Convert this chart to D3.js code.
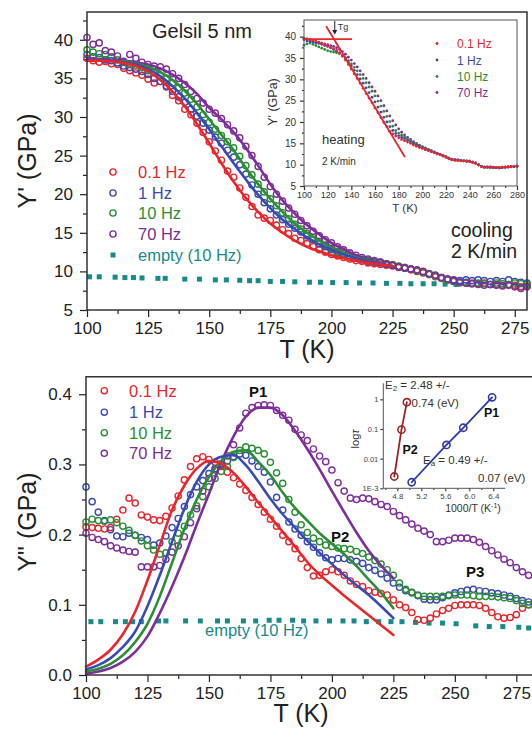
<!DOCTYPE html>
<html><head><meta charset="utf-8">
<script src="https://cdn.jsdelivr.net/npm/d3@7"></script>
<style>body{margin:0;background:#fff}svg{display:block}text{font-family:"Liberation Sans",Arial,sans-serif}</style>
</head><body><svg id="c" width="532" height="730"></svg>
<script>
// ---------- DATA ----------
const T25 = [100,102.5,105,107.5,110,112.5,115,117.5,120,122.5,125,127.5,130,132.5,135,137.5,140,142.5,145,147.5,150,152.5,155,157.5,160,162.5,165,167.5,170,172.5,175,177.5,180,182.5,185,187.5,190,192.5,195,197.5,200,202.5,205,207.5,210,212.5,215,217.5,220,222.5,225,227.5,230,232.5,235,237.5,240,242.5,245,247.5,250,252.5,255,257.5,260,262.5,265,267.5,270,272.5,275,277.5,280];
const T5 = [100,105,110,115,120,125,130,135,140,145,150,155,160,165,170,175,180,185,190,195,200,205,210,215,220,225];
const freqLabels = ["0.1 Hz","1 Hz","10 Hz","70 Hz"];

// Top panel: Y' (GPa), cooling
const topRed = [37.6,37.3,37.1,37.2,36.9,36.8,36.3,36.0,35.7,35.4, 34.9,34.4,34.6,33.9,32.8,32.1,31.0,30.3,29.2,28.0, 26.8,25.6,24.4,23.0,22.2,20.8,19.6,18.4,17.3,16.9, 16.6,16.0,15.4,14.9,14.3,14.0,13.6,13.2,12.8,12.5, 12.2,12.0,11.8,11.6,11.4,11.3,11.1,11.0,10.9,10.8, 10.7,10.5,10.4,10.2,10.0,9.8,9.6,9.3,9.1,8.9, 8.7,8.6,8.5,8.5,8.4,8.5,8.3,8.3,8.2,8.3, 8.2,8.0,8.1];
const topBlue = [38.1,37.8,37.7,37.4,37.3,37.0,36.6,36.4,36.2,35.9, 35.5,35.0,34.6,34.0,33.3,32.6,31.9,31.0,30.1,29.2, 28.3,27.4,26.6,25.7,24.8,23.8,22.6,21.2,20.0,18.9, 18.1,17.3,16.7,16.1,15.6,15.1,14.6,14.1,13.6,13.2, 12.8,12.4,12.1,11.9,11.7,11.5,11.3,11.2,11.1,10.9, 10.8,10.6,10.4,10.3,10.1,9.9,9.7,9.5,9.2,9.0, 8.9,8.8,8.9,8.8,8.9,8.8,8.7,8.8,8.7,8.9, 8.7,8.6,8.5];
const topGreen = [38.7,38.4,38.2,38.1,37.8,37.4,37.1,36.9,36.7,36.4, 36.0,35.8,35.4,35.0,34.4,33.8,33.1,32.3,31.3,30.3, 29.3,28.4,27.6,26.8,26.0,24.9,23.7,22.5,21.3,20.3, 19.4,18.5,17.6,16.8,16.1,15.5,14.9,14.4,13.9,13.4, 13.0,12.6,12.3,12.0,11.8,11.6,11.4,11.3,11.2,11.0, 10.9,10.7,10.5,10.3,10.1,9.9,9.6,9.4,9.1,8.9, 8.7,8.5,8.6,8.4,8.5,8.4,8.3,8.5,8.4,8.3, 8.5,8.4,8.3];
const topPurple = [40.3,39.4,39.6,38.6,38.4,37.9,37.2,38.1,37.6,37.1, 36.8,36.6,36.5,36.2,35.6,35.0,34.2,33.3,32.4,31.8, 31.0,30.5,29.8,29.0,28.2,27.3,26.2,25.0,23.6,22.2, 21.0,20.0,19.1,18.2,17.4,16.6,15.9,15.2,14.6,14.1, 13.7,13.2,12.8,12.4,12.1,11.8,11.6,11.4,11.2,11.0, 10.8,10.6,10.5,10.3,10.2,10.0,9.7,9.5,9.2,9.0, 8.8,8.6,8.5,8.4,8.3,8.2,8.3,8.2,8.1,8.2, 8.0,7.8,8.0];
const fitTopRed = [37.3,37.3,37.2,37.0,36.6,35.9,34.8,33.3,31.4,29.1, 26.6,24.0,21.6,19.5,17.7,16.2,15.0,14.0,13.2,12.6, 12.1,11.7,11.4,11.1,10.9,10.7];
const fitTopBlue = [37.4,37.4,37.3,37.1,36.8,36.2,35.3,34.0,32.4,30.5, 28.4,26.2,24.0,21.9,19.9,18.2,16.7,15.5,14.4,13.5, 12.8,12.2,11.7,11.3,11.0,10.7];
const fitTopGreen = [37.4,37.4,37.3,37.2,36.9,36.5,35.8,34.8,33.4,31.7, 29.7,27.7,25.7,23.4,21.3,19.4,17.7,16.2,15.0,14.0, 13.1,12.4,11.8,11.4,11.0,10.7];
const fitTopPurple = [37.5,37.5,37.4,37.3,37.1,36.8,36.3,35.5,34.4,33.0, 31.2,29.7,28.0,26.0,23.7,21.3,19.2,17.5,16.0,14.8, 13.7,12.9,12.1,11.5,11.0,10.6];
const emptyTopT = [101,105,111.5,115.5,119,122.5,129,132,140,146, 152.5,157,162.5,166.5,170,175,180,185,191,195.5, 200.5,206,211.5,217,222.5,228,232.5,237.5,242,246.5, 251,256,261,266,271,276];
const emptyTopV = [9.3,9.3,9.25,9.2,9.2,9.15,9.1,9.1,9.0,9.0, 8.9,8.9,8.85,8.8,8.8,8.7,8.7,8.65,8.6,8.6, 8.55,8.55,8.5,8.5,8.45,8.45,8.4,8.4,8.4,8.35, 8.3,8.3,8.25,8.2,8.2,8.1];

// Inset (heating)
const insRed = [39.6,39.5,39.3,39.1,38.9,38.7,38.4,38.1,37.8,37.5, 37.2,36.8,36.2,35.4,34.5,33.5,32.4,31.3,30.2,29.1, 27.9,26.7,25.6,24.5,23.3,22.2,21.0,19.9,18.9,17.8, 17.2,16.7,16.3,15.9,15.6,15.3,15.0,14.6,14.3,14.0, 13.8,13.5,13.3,13.0,12.8,12.5,12.3,12.0,11.8,11.4, 11.1,11.0,11.0,10.9,10.9,10.8,10.7,10.5,10.3,9.9, 9.5,9.4,9.5,9.4,9.3,9.3,9.3,9.4,9.4,9.5, 9.5,9.6,9.6];
const insBlue = [39.3,39.0,38.9,38.7,38.5,38.4,38.2,37.9,37.7,37.4, 37.0,36.6,36.2,35.6,34.9,34.0,33.1,32.1,31.1,30.1, 29.1,28.0,26.9,25.8,24.7,23.5,22.3,21.1,20.0,18.9, 18.0,17.3,16.8,16.4,16.1,15.7,15.3,14.9,14.5,14.2, 13.9,13.6,13.4,13.1,12.9,12.6,12.4,12.1,11.8,11.5, 11.2,11.1,11.1,11.0,10.9,10.8,10.8,10.6,10.3,9.9, 9.6,9.4,9.4,9.5,9.4,9.3,9.3,9.4,9.4,9.4, 9.5,9.5,9.6];
const insGreen = [38.0,38.3,38.5,38.2,37.9,37.6,37.3,37.0,36.7,36.5, 36.4,36.2,36.0,35.6,35.1,34.4,33.6,32.8,32.0,31.1, 30.2,29.2,28.2,27.2,26.1,24.9,23.7,22.5,21.3,20.1, 19.0,18.0,17.4,16.9,16.5,16.1,15.7,15.2,14.8,14.4, 14.1,13.8,13.5,13.2,12.9,12.6,12.4,12.1,11.8,11.5, 11.2,11.1,11.0,11.0,10.9,10.8,10.8,10.6,10.4,10.0, 9.6,9.4,9.4,9.4,9.3,9.3,9.3,9.3,9.4,9.5, 9.5,9.6,9.6];
const insPurple = [39.5,39.4,39.2,39.0,38.8,38.6,38.5,38.3,38.1,37.9, 37.7,37.4,37.0,36.5,35.9,35.2,34.5,33.7,32.9,32.0, 31.1,30.2,29.2,28.2,27.2,26.1,25.0,23.8,22.6,21.4, 20.3,19.3,18.4,17.6,17.0,16.4,15.9,15.4,15.0,14.6, 14.2,13.9,13.6,13.3,13.0,12.7,12.4,12.1,11.8,11.5, 11.3,11.2,11.1,11.0,10.9,10.9,10.8,10.6,10.4,10.0, 9.6,9.4,9.4,9.3,9.3,9.3,9.2,9.3,9.4,9.5, 9.6,9.6,9.7];
const tgHorizT = [100,140], tgHorizV = [39.4,39.4];
const tgSlopeT = [119,185], tgSlopeV = [42.3,11.9];

// Bottom panel: Y'' (GPa)
const botRed = [.211,.210,.209,.208,.210,.222,.235,.252,.245,.228, .225,.221,.220,.226,.238,.255,.278,.297,.308,.311, .307,.303,.297,.289,.281,.272,.263,.253,.243,.232, .222,.212,.199,.190,.180,.166,.153,.141,.142,.147, .150,.147,.142,.134,.129,.126,.120,.118,.116,.114, .107,.100,.096,.089,.079,.078,.081,.087,.092,.095, .099,.100,.100,.100,.099,.095,.089,.083,.081,.082, .086,.095,.100];
const botBlue = [.268,.247,.232,.220,.207,.198,.197,.202,.199,.196, .193,.185,.188,.198,.210,.223,.240,.257,.268,.277, .287,.294,.300,.305,.311,.315,.313,.305,.297,.289, .275,.253,.235,.218,.208,.199,.190,.182,.174,.167, .164,.166,.166,.164,.162,.159,.153,.149,.144,.138, .131,.125,.120,.118,.113,.108,.107,.107,.110,.114, .117,.119,.121,.122,.120,.119,.117,.116,.114,.112, .109,.106,.104];
const botGreen = [.218,.222,.220,.219,.221,.217,.212,.206,.199,.191, .184,.178,.172,.174,.190,.202,.212,.228,.241,.254, .268,.280,.290,.297,.310,.320,.325,.323,.320,.315, .303,.288,.273,.250,.232,.214,.203,.195,.190,.185, .183,.181,.180,.179,.176,.173,.168,.163,.158,.150, .142,.131,.122,.117,.114,.112,.112,.112,.112,.113, .114,.114,.114,.113,.112,.112,.112,.111,.110,.109, .106,.102,.100];
const botPurple = [.202,.196,.193,.190,.184,.181,.178,.176,.175,.154, .154,.154,.156,.165,.175,.184,.197,.217,.237,.262, .280,.292,.301,.312,.328,.352,.373,.381,.384,.385, .384,.377,.370,.363,.350,.342,.334,.322,.312,.304, .292,.274,.262,.252,.250,.252,.251,.247,.243,.240, .233,.227,.221,.215,.209,.205,.200,.190,.190,.192, .195,.195,.195,.193,.189,.183,.177,.171,.165,.160, .153,.147,.142];
const fitBotRed = [.012,.022,.036,.058,.090,.135,.185,.235,.270,.294, .305,.301,.288,.268,.246,.225,.204,.183,.161,.143, .128,.113,.099,.085,.071,.057];
const fitBotBlue = [.008,.014,.024,.040,.062,.098,.142,.190,.237,.275, .300,.311,.313,.299,.276,.251,.229,.210,.191,.174, .158,.142,.128,.114,.098,.081];
const fitBotGreen = [.005,.009,.016,.028,.047,.073,.112,.160,.208,.250, .282,.305,.318,.320,.304,.285,.260,.238,.220,.202, .187,.172,.155,.136,.117,.095];
const fitBotPurple = [.002,.005,.010,.019,.033,.055,.088,.126,.168,.214, .258,.303,.340,.368,.381,.381,.370,.348,.322,.293, .262,.232,.203,.177,.156,.138];
const emptyBotT = [102,106,112,116,119,122.5,129.5,132.5,140.5,146.5, 153.5,157.5,164,169,174.5,178.5,184,188.5,193.5,199, 204.5,209,214,219,224,228.5,234,239.5,245,250.5, 258.5,264,269.5,276,280];
const emptyBotV = [.076,.076,.076,.076,.076,.076,.077,.077,.077,.077, .077,.077,.077,.077,.078,.078,.078,.077,.077,.077, .077,.077,.076,.076,.076,.076,.075,.074,.074,.073, .070,.069,.069,.068,.067];

// Arrhenius inset
const p2X = [4.75,4.87,4.96], p2Tau = [0.0025,0.095,0.8];
const p1X = [5.04,5.62,5.90,6.38], p1Tau = [0.0016,0.029,0.11,1.17];

// Tick labels
const topXTicks = [100,125,150,175,200,225,250,275];
const topYTicks = [5,10,15,20,25,30,35,40];
const botYTicks = [0,0.1,0.2,0.3,0.4];
const insXTicks = [100,120,140,160,180,200,220,240,260,280];
const insYTicks = [5,10,15,20,25,30,35,40];
const logXTicks = [4.8,5.2,5.6,6.0,6.4];
const logYTicks = [0.001,0.01,0.1,1];
const logYLabels = ["1E-3","0.01","0.1","1"];

// ---------- DRAWING ----------
const C = {red:"#e8262c", blue:"#3a4ab4", green:"#2a8f34", purple:"#7e2d9b", teal:"#178b8b", dark:"#222", p2:"#9e2424", p1:"#2c3aa6"};
const colors = [C.red, C.blue, C.green, C.purple];
const svg = d3.select("#c");
const FONT = '"Liberation Sans", Arial, sans-serif';

function pairs(xs, ys){ return xs.map((x,i)=>[x, ys[i]]); }
function mids(a){ const r=[]; for(let i=0;i<a.length-1;i++) r.push((a[i]+a[i+1])/2); return r; }
function drawAxis(g, axisGen, values, size, pad, fmt, fs, color){
  const a = axisGen.tickValues(values).tickSize(size).tickPadding(pad).tickFormat(fmt);
  g.call(a);
  g.select(".domain").remove();
  g.selectAll("line").attr("stroke", color).attr("stroke-width", 1.2);
  g.selectAll("text").attr("font-family", FONT).attr("font-size", fs).attr("fill", color);
}
function circles(g, data, x, y, color, r, sw){
  g.append("g").selectAll("circle").data(data).join("circle")
    .attr("cx", d=>x(d[0])).attr("cy", d=>y(d[1])).attr("r", r)
    .attr("fill","none").attr("stroke", color).attr("stroke-width", sw);
}
function dots(g, data, x, y, color, r){
  g.append("g").selectAll("circle").data(data).join("circle")
    .attr("cx", d=>x(d[0])).attr("cy", d=>y(d[1])).attr("r", r).attr("fill", color);
}
function squares(g, data, x, y, color, s){
  g.append("g").selectAll("rect").data(data).join("rect")
    .attr("x", d=>x(d[0])-s/2).attr("y", d=>y(d[1])-s/2).attr("width", s).attr("height", s).attr("fill", color);
}
function line(g, data, x, y, color, w, curve){
  g.append("path").datum(data).attr("fill","none").attr("stroke", color).attr("stroke-width", w)
    .attr("stroke-linecap","round")
    .attr("d", d3.line().x(d=>x(d[0])).y(d=>y(d[1])).curve(curve || d3.curveLinear));
}
function txt(x, y, s, fs, fill, opts={}){
  const t = svg.append("text").attr("x", x).attr("y", y).attr("font-size", fs).attr("fill", fill)
    .attr("font-family", FONT).text(s);
  if (opts.anchor) t.attr("text-anchor", opts.anchor);
  if (opts.weight) t.attr("font-weight", opts.weight);
  return t;
}

// ===== TOP PANEL =====
const xT = d3.scaleLinear().domain([100,280]).range([87,527]);
const yT = d3.scaleLinear().domain([5,43.6]).range([310,12]);
const gTop = svg.append("g");
drawAxis(gTop.append("g").attr("transform","translate(0,310)"), d3.axisBottom(xT), topXTicks, 7, 5, d3.format("d"), 17, C.dark);
drawAxis(gTop.append("g").attr("transform","translate(0,310)"), d3.axisBottom(xT), mids(topXTicks), 4, 0, "", 17, C.dark);
drawAxis(gTop.append("g").attr("transform","translate(87,0)"), d3.axisLeft(yT), topYTicks, 7, 7, d3.format("d"), 17, C.dark);
drawAxis(gTop.append("g").attr("transform","translate(87,0)"), d3.axisLeft(yT), mids(topYTicks).concat([42.5]), 4, 0, "", 17, C.dark);

const topSeries = [topRed, topBlue, topGreen, topPurple];
const topFits = [fitTopRed, fitTopBlue, fitTopGreen, fitTopPurple];
squares(gTop, pairs(emptyTopT, emptyTopV), xT, yT, C.teal, 5);
topSeries.forEach((s,i)=> circles(gTop, pairs(T25, s), xT, yT, colors[i], 3.1, 1.4));
[3,2,1,0].forEach(i=> line(gTop, pairs(T5, topFits[i]), xT, yT, colors[i], 2.6, d3.curveMonotoneX));
gTop.append("rect").attr("x",87).attr("y",12).attr("width",440).attr("height",298)
  .attr("fill","none").attr("stroke","#333").attr("stroke-width",1.5);

// top legend
const topLegY = [172,193,213,234];
freqLabels.forEach((l,i)=>{
  svg.append("circle").attr("cx",113).attr("cy",topLegY[i]).attr("r",3.1).attr("fill","none").attr("stroke",colors[i]).attr("stroke-width",1.4);
  txt(138, topLegY[i]+6, l, 16.5, colors[i]);
});
svg.append("rect").attr("x",110.5).attr("y",252.5).attr("width",5).attr("height",5).attr("fill",C.teal);
txt(138, 261, "empty (10 Hz)", 16.5, C.teal);
txt(152, 38, "Gelsil 5 nm", 20, C.dark);
txt(451, 237, "cooling", 19.5, C.dark);
txt(451, 258, "2 K/min", 19.5, C.dark);
txt(35.5, 161, "Y' (GPa)", 25, C.dark, {anchor:"middle"}).attr("transform","rotate(-90,35.5,161)");
txt(307, 358, "T (K)", 25, C.dark, {anchor:"middle"});

// ===== TOP INSET =====
const xI = d3.scaleLinear().domain([100,280]).range([304,517]);
const yI = d3.scaleLinear().domain([5,43.9]).range([186,20]);
const gIn = svg.append("g");
gIn.append("rect").attr("x",304).attr("y",20).attr("width",213).attr("height",166).attr("fill","#fff");
drawAxis(gIn.append("g").attr("transform","translate(0,186)"), d3.axisBottom(xI), insXTicks, 4, 2, d3.format("d"), 9, "#333");
drawAxis(gIn.append("g").attr("transform","translate(0,186)"), d3.axisBottom(xI), mids(insXTicks), 2, 0, "", 9, "#333");
drawAxis(gIn.append("g").attr("transform","translate(304,0)"), d3.axisLeft(yI), insYTicks, 4, 4, d3.format("d"), 10, "#333");
drawAxis(gIn.append("g").attr("transform","translate(304,0)"), d3.axisLeft(yI), mids(insYTicks).concat([42.5]), 2, 0, "", 10, "#333");
const insSeries = [insRed, insBlue, insGreen, insPurple];
[3,2,1,0].forEach(i=> dots(gIn, pairs(T25, insSeries[i]), xI, yI, colors[i], 1.4));
line(gIn, pairs(tgHorizT, tgHorizV), xI, yI, C.red, 1.8);
line(gIn, pairs(tgSlopeT, tgSlopeV), xI, yI, C.red, 1.8);
gIn.append("rect").attr("x",304).attr("y",20).attr("width",213).attr("height",166)
  .attr("fill","none").attr("stroke","#555").attr("stroke-width",1);
// Tg arrow
const tgX = xI(126);
gIn.append("line").attr("x1",tgX).attr("x2",tgX).attr("y1",21).attr("y2",31).attr("stroke","#222").attr("stroke-width",1);
gIn.append("path").attr("d",`M${tgX-2.5},30 L${tgX+2.5},30 L${tgX},34.5 Z`).attr("fill","#222");
txt(tgX+3, 30, "Tg", 9, "#333");
const insLegY = [43.5,60,76.5,92.5];
freqLabels.forEach((l,i)=>{
  svg.append("circle").attr("cx",437).attr("cy",insLegY[i]).attr("r",1.4).attr("fill",colors[i]);
  txt(457, insLegY[i]+4.5, l, 12, colors[i]);
});
txt(322, 144, "heating", 13, "#333");
txt(322, 165, "2 K/min", 10, "#333");
txt(405, 212, "T (K)", 11.5, "#333", {anchor:"middle"});
txt(276.5, 102, "Y' (GPa)", 12.5, "#333", {anchor:"middle"}).attr("transform","rotate(-90,276.5,102)");

// ===== BOTTOM PANEL =====
const xB = d3.scaleLinear().domain([100,283]).range([86,536]);
const yB = d3.scaleLinear().domain([0,0.425]).range([675,376.7]);
const gBot = svg.append("g");
drawAxis(gBot.append("g").attr("transform","translate(0,675)"), d3.axisBottom(xB), topXTicks, 7, 5, d3.format("d"), 17, C.dark);
drawAxis(gBot.append("g").attr("transform","translate(0,675)"), d3.axisBottom(xB), mids(topXTicks), 4, 0, "", 17, C.dark);
drawAxis(gBot.append("g").attr("transform","translate(86,0)"), d3.axisLeft(yB), botYTicks, 7, 7, d3.format(".1f"), 17, C.dark);
drawAxis(gBot.append("g").attr("transform","translate(86,0)"), d3.axisLeft(yB), mids(botYTicks), 4, 0, "", 17, C.dark);

const botSeries = [botRed, botBlue, botGreen, botPurple];
const botFits = [fitBotRed, fitBotBlue, fitBotGreen, fitBotPurple];
squares(gBot, pairs(emptyBotT, emptyBotV), xB, yB, C.teal, 5);
botSeries.forEach((s,i)=> circles(gBot, pairs(T25, s), xB, yB, colors[i], 3.1, 1.4));
[3,2,1,0].forEach(i=> line(gBot, pairs(T5, botFits[i]), xB, yB, colors[i], 2.6, d3.curveMonotoneX));
gBot.append("path").attr("d","M86,675 L86,376.7 L540,376.7").attr("fill","none").attr("stroke","#333").attr("stroke-width",1.5);
gBot.append("line").attr("x1",86).attr("x2",540).attr("y1",675).attr("y2",675).attr("stroke","#333").attr("stroke-width",1.5);

const botLegY = [390.7,412.2,432.7,453.3];
freqLabels.forEach((l,i)=>{
  svg.append("circle").attr("cx",104.3).attr("cy",botLegY[i]).attr("r",3.1).attr("fill","none").attr("stroke",colors[i]).attr("stroke-width",1.4);
  txt(129, botLegY[i]+6, l, 16.5, colors[i]);
});
txt(205, 636, "empty (10 Hz)", 16.5, C.teal);
txt(249, 397, "P1", 15, "#111", {weight:"bold"});
txt(331, 542, "P2", 15, "#111", {weight:"bold"});
txt(466, 577, "P3", 15, "#111", {weight:"bold"});
txt(35.5, 522, 'Y" (GPa)', 25, C.dark, {anchor:"middle"}).attr("transform","rotate(-90,35.5,522)");
txt(301, 722, "T (K)", 25, C.dark, {anchor:"middle"});

// ===== BOTTOM INSET (Arrhenius) =====
const xL = d3.scaleLinear().domain([4.567,6.6]).range([383.3,505.3]);
const yL = d3.scaleLog().domain([0.001,3.47]).range([488.3,383.3]);
const gL = svg.append("g");
drawAxis(gL.append("g").attr("transform","translate(0,488.3)"), d3.axisBottom(xL), logXTicks, 3, 2, d3.format(".1f"), 8, "#444");
drawAxis(gL.append("g").attr("transform","translate(0,488.3)"), d3.axisBottom(xL), mids(logXTicks).concat([4.6]), 1.8, 0, "", 8, "#444");
drawAxis(gL.append("g").attr("transform","translate(383.3,0)"), d3.axisLeft(yL), logYTicks, 3, 2, (d,i)=>logYLabels[i], 7.5, "#444");
gL.append("path").attr("d","M383.3,383.3 L383.3,488.3 L505.3,488.3").attr("fill","none").attr("stroke","#555").attr("stroke-width",1);
line(gL, pairs(p2X, p2Tau), xL, yL, C.p2, 1.8);
line(gL, pairs(p1X, p1Tau), xL, yL, C.p1, 1.8);
circles(gL, pairs(p2X, p2Tau), xL, yL, C.p2, 3.6, 1.6);
circles(gL, pairs(p1X, p1Tau), xL, yL, C.p1, 3.6, 1.6);
const e2 = txt(385, 388.5, "E", 11.5, "#333");
e2.append("tspan").attr("font-size",8).attr("dy",2.5).text("2");
e2.append("tspan").attr("dy",-2.5).text(" = 2.48 +/-");
txt(411.5, 407, "0.74 (eV)", 11.5, "#333");
const ea = txt(423, 463.5, "E", 11.5, "#333");
ea.append("tspan").attr("font-size",8).attr("dy",2.5).text("a");
ea.append("tspan").attr("dy",-2.5).text(" = 0.49 +/-");
txt(478, 481.5, "0.07 (eV)", 11.5, "#333");
txt(484, 417, "P1", 12.5, "#111", {weight:"bold"});
txt(402.5, 453.5, "P2", 12.5, "#111", {weight:"bold"});
const lt = txt(359, 439, "log", 11, "#333", {anchor:"middle"}).attr("transform","rotate(-90,359,439)");
lt.append("tspan").attr("font-style","italic").text("τ");
const kt = txt(473, 511.5, "1000/T (K", 10.5, "#333", {anchor:"middle"});
kt.append("tspan").attr("font-size",7).attr("dy",-4).text("-1");
kt.append("tspan").attr("dy",4).text(")");
</script></body></html>
